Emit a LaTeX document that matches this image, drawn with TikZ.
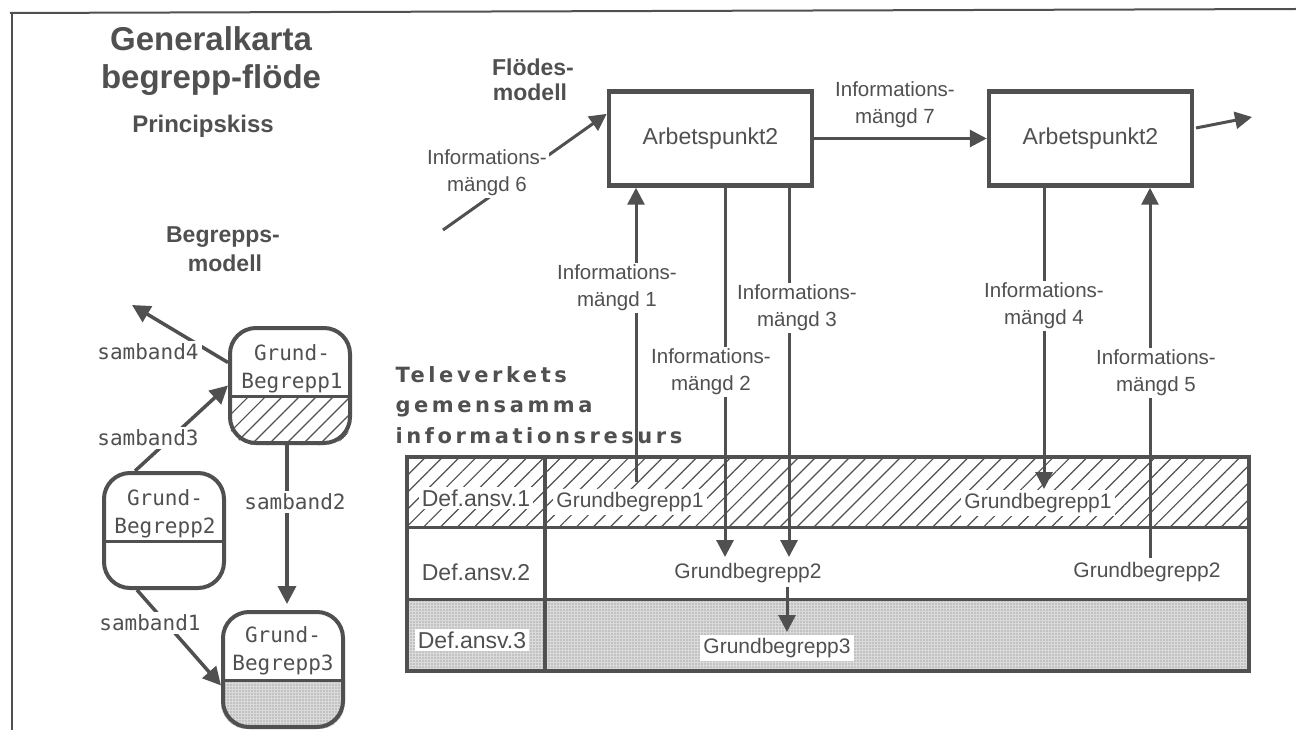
\documentclass[tikz,border=0pt]{standalone}
\usepackage{fontspec}
\setmainfont{Liberation Sans}
\newfontfamily\gbmono{DejaVu Sans Mono}
\newfontfamily\tvsans{DejaVu Sans}
\usetikzlibrary{arrows.meta,calc,patterns.meta}
\definecolor{ink}{RGB}{80,80,80}
\definecolor{stip}{RGB}{218,218,218}
\pgfdeclarelayer{bg}
\pgfsetlayers{bg,main}

\tikzset{
  every node/.style={text=ink},
  titlefont/.style={font=\bfseries\fontsize{33}{38}\selectfont},
  subfont/.style={font=\bfseries\fontsize{24}{28}\selectfont},
  headfont/.style={font=\bfseries\fontsize{23}{27}\selectfont},
  tvfont/.style={font=\tvsans\bfseries\fontsize{21}{30}\selectfont\addfontfeatures{LetterSpace=17}},
  infolbl/.style={font=\fontsize{20.5}{27}\selectfont, align=center, fill=white, inner sep=2pt},
  apbox/.style={draw=ink, line width=4.5pt, minimum width=203pt, minimum height=94pt,
                font=\fontsize{23}{27}\selectfont},
  conn/.style={draw=ink, line width=3pt, -{Triangle[length=17pt,width=17pt]}},
  lconn/.style={draw=ink, line width=3.5pt, -{Triangle[length=18pt,width=18pt]}},
  gbox/.style={draw=ink, line width=4pt, rounded corners=26pt, minimum width=120pt, minimum height=115pt},
  gtext/.style={font=\gbmono\fontsize{21}{28}\selectfont, align=center},
  sband/.style={font=\gbmono\fontsize{21}{25}\selectfont, fill=white, inner sep=3pt},
  cell/.style={font=\fontsize{23}{27}\selectfont, fill=white, inner sep=3pt},
  gbt/.style={font=\fontsize{21}{25}\selectfont, fill=white, inner sep=3pt},
  divline/.style={draw=ink, line width=3pt},
  hatchfill/.style={pattern={Lines[angle=45,distance=12pt,line width=1.2pt]}, pattern color=ink},
  stipfill/.style={preaction={fill=stip}, pattern={Dots[radius=0.55pt,distance=3pt]}, pattern color=ink!80},
}

\begin{document}
\begin{tikzpicture}[x=1pt,y=-1pt]
\begin{pgfonlayer}{bg}
  \fill[white] (0,0) rectangle (1296,730);
\end{pgfonlayer}
\useasboundingbox (0,0) rectangle (1296,730);

% page frame (top and left edges)
\draw[ink, line width=2pt] (10,13) -- (1296,9);
\draw[ink, line width=2pt] (12,13) -- (12,730);

% headings
\node[titlefont, anchor=base] (t1) at (211,51) {Generalkarta};
\node[titlefont, anchor=base] (t2) at (211,89) {begrepp-flöde};
\node[subfont, anchor=base] (t3) at (203,133) {Principskiss};
\node[headfont, anchor=base] (fm1) at (533,76) {Flödes-};
\node[headfont, anchor=base] (fm2) at (530,101) {modell};
\node[headfont, anchor=base] (bm1) at (223,243) {Begrepps-};
\node[headfont, anchor=base] (bm2) at (225,272) {modell};
\node[tvfont, anchor=base west] (tv1) at (392,382) {Televerkets};
\node[tvfont, anchor=base west] (tv2) at (392,412.5) {gemensamma};
\node[tvfont, anchor=base west] (tv3) at (392,443) {informationsresurs};

% flow model: work points
\node[apbox] (A1) at (710.5,138.5) {Arbetspunkt2};
\node[apbox] (A2) at (1090.5,138.5) {Arbetspunkt2};

% shared information resource table
\begin{pgfonlayer}{bg}
  \fill[hatchfill] (407,457) rectangle (1249,527);
  \fill[stipfill] (407,599) rectangle (1249,671);
\end{pgfonlayer}
\draw[divline] (407,527) -- (1249,527);
\draw[divline] (407,599) -- (1249,599);
\draw[ink, line width=4.5pt] (545,457) -- (545,671);
\draw[ink, line width=4.5pt] (407,457) rectangle (1249,671);

\node[cell] (d1) at (476,498) {Def.ansv.1};
\node[cell] (d2) at (476,572) {Def.ansv.2};
\node[cell] (d3) at (472,640) {Def.ansv.3};
\node[gbt] (g1a) at (630,502) {Grundbegrepp1};
\node[gbt] (g1b) at (1038,503) {Grundbegrepp1};
\node[gbt] (g2a) at (748,573) {Grundbegrepp2};
\node[gbt] (g2b) at (1147,572) {Grundbegrepp2};
\node[gbt] (g3) at (777,648) {Grundbegrepp3};

% flow connectors
\coordinate (in6) at (443,230);
\draw[conn] (in6) -- ($(A1.north west)!0.25!(A1.south west)$);
\draw[conn] (A1.east) -- (A2.west);
\coordinate (o1) at (1196,128);
\coordinate (o2) at (1252,117);
\draw[conn] (o1) -- (o2);

\coordinate (v1) at ($(g1a.north)+(6,-7)$);
\draw[conn] (v1) -- (v1 |- A1.south);
\coordinate (v2) at ($(g2a.north)+(-23,-3)$);
\draw[conn] (v2 |- A1.south) -- (v2);
\coordinate (v3) at ($(g2a.north)+(41,-3)$);
\draw[conn] (v3 |- A1.south) -- (v3);
\coordinate (v4) at ($(g1b.north)+(6,-1)$);
\draw[conn] (v4 |- A2.south) -- (v4);
\coordinate (v5) at ($(g2b.north)+(3,-1)$);
\draw[conn] (v5) -- (v5 |- A2.south);
\coordinate (v6a) at ($(g2a.south)+(39,1)$);
\coordinate (v6b) at ($(v6a |- g3.north)+(0,-3)$);
\draw[conn] (v6a) -- (v6b);

% flow labels
\node[infolbl] (L1) at (617,288) {Informations-\\mängd 1};
\node[infolbl] (L2) at (711,372) {Informations-\\mängd 2};
\node[infolbl] (L3) at (797,308) {Informations-\\mängd 3};
\node[infolbl] (L4) at (1044,306) {Informations-\\mängd 4};
\node[infolbl] (L5) at (1156,373) {Informations-\\mängd 5};
\node[infolbl] (L6) at (487,173) {Informations-\\mängd 6};
\node[infolbl, fill=none] (L7) at (895,105) {Informations-\\mängd 7};

% concept model
\node[gbox] (GB1) at (290,385.5) {};
\node[gbox] (GB2) at (164,530.5) {};
\node[gbox] (GB3) at (283,669.5) {};
\begin{pgfonlayer}{bg}
  \begin{scope}
    \clip[rounded corners=26pt] (GB1.north west) rectangle (GB1.south east);
    \fill[hatchfill] ($(GB1.north west)+(0,70)$) rectangle (GB1.south east);
  \end{scope}
  \begin{scope}
    \clip[rounded corners=26pt] (GB3.north west) rectangle (GB3.south east);
    \fill[stipfill] ($(GB3.north west)+(0,70)$) rectangle (GB3.south east);
  \end{scope}
\end{pgfonlayer}
\draw[divline] ($(GB1.north west)+(0,70)$) -- ($(GB1.north east)+(0,70)$);
\draw[divline] ($(GB2.north west)+(0,70)$) -- ($(GB2.north east)+(0,70)$);
\draw[divline] ($(GB3.north west)+(0,70)$) -- ($(GB3.north east)+(0,70)$);

\node[gtext] (GB1t) at (292,368.5) {Grund-\\Begrepp1};
\node[gtext] (GB2t) at (165,513.5) {Grund-\\Begrepp2};
\node[gtext] (GB3t) at (283,650.5) {Grund-\\Begrepp3};

\coordinate (s2) at ($(GB1.south)+(-3,0)$);
\draw[lconn] (s2) -- ($(s2 |- GB3.north)+(0,-6)$);
\draw[lconn] ($(GB2.north)+(-29,0)$) -- (GB1.west);
\coordinate (s4end) at (132,305);
\draw[lconn] ($(GB1.west)+(0,-23)$) -- (s4end);
\draw[lconn] ($(GB2.south)+(-27,0)$) -- ($(GB3.west)+(0,16)$);

\node[sband] (sb4) at (148,352) {samband4};
\node[sband] (sb3) at (148,438) {samband3};
\node[sband] (sb2) at (295,502) {samband2};
\node[sband] (sb1) at (150,623) {samband1};
\end{tikzpicture}
\end{document}
